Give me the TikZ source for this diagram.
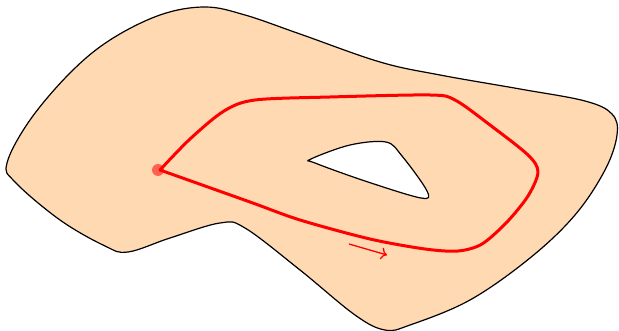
\documentclass[tikz,border=0pt]{standalone}
\usetikzlibrary{arrows.meta}
\begin{document}
\begin{tikzpicture}[x=1pt,y=-1pt,
  surface/.style={draw=black,line width=1.2pt,fill=orange!30},
  holeshape/.style={draw=black,line width=1.2pt,fill=white},
  loopline/.style={draw=red,line width=3pt,line join=round,line cap=round},
  dirarrow/.style={draw=red,line width=1.3pt,-{To[length=6pt,width=12pt]}},
  basept/.style={fill=red,opacity=0.55}]
\useasboundingbox (0,0) rectangle (619,331);
\draw[surface] plot[smooth cycle,tension=0.6] coordinates {
  (7,163) (30,120) (70,73) (110,40) (160,15) (205,7) (245,15) (300,34)
  (380,62) (440,75) (520,89) (585,101) (612,114) (617,135) (605,170)
  (575,215) (530,258) (470,300) (410,325) (385,330) (355,315) (300,270)
  (245,228) (220,223) (170,238) (128,252) (105,246) (60,220) (15,182)};
\draw[holeshape] plot[smooth cycle,tension=0.55] coordinates {
  (311,159) (350,145) (386,142) (402,156) (427,191) (421,198) (365,181) (315,163)};
\draw[loopline] plot[smooth,tension=0.5] coordinates {
  (160,170) (190,139) (224,111) (255,100) (330,97) (430,95) (455,100)
  (490,125) (528,155) (538,172) (528,196) (507,222) (482,244) (458,251)
  (425,249) (370,239) (300,220) (250,202) (160,170)};
\fill[basept] (158,170) circle (6);
\coordinate (arrS) at (349,244);
\coordinate (arrE) at (387,255);
\draw[dirarrow] (arrS) -- (arrE);
\end{tikzpicture}
\end{document}
